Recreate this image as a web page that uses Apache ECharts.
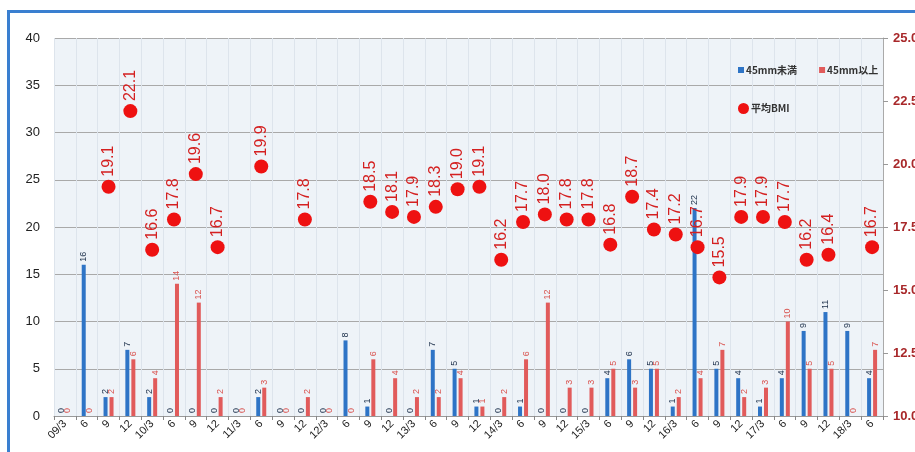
<!DOCTYPE html>
<html>
<head>
<meta charset="utf-8">
<script src="https://cdn.jsdelivr.net/npm/echarts@6/dist/echarts.min.js"></script>
<style>
  html, body { margin: 0; padding: 0; background: #ffffff; }
  #frame { position: absolute; left: 7px; top: 10px; width: 940px; height: 480px;
           border-left: 3px solid #3a7fd0; border-top: 3px solid #3a7fd0; }
  #chart { position: absolute; left: 0; top: 0; width: 915px; height: 452px; }
</style>
</head>
<body>
<div id="frame"></div>
<div id="chart"></div>
<script>
// Quarterly survey points (year/month)
const categories = [
  '09/3', '6', '9', '12', '10/3', '6', '9', '12', '11/3', '6', '9', '12',
  '12/3', '6', '9', '12', '13/3', '6', '9', '12', '14/3', '6', '9', '12',
  '15/3', '6', '9', '12', '16/3', '6', '9', '12', '17/3', '6', '9', '12',
  '18/3', '6'
];

// Counts below 45mm
const under45 = [
  0, 16, 2, 7, 2, 0, 0, 0, 0, 2, 0, 0,
  0, 8, 1, 0, 0, 7, 5, 1, 0, 1, 0, 0,
  0, 4, 6, 5, 1, 22, 5, 4, 1, 4, 9, 11,
  9, 4
];

// Counts of 45mm and above
const over45 = [
  0, 0, 2, 6, 4, 14, 12, 2, 0, 3, 0, 2,
  0, 0, 6, 4, 2, 2, 4, 1, 2, 6, 12, 3,
  3, 5, 3, 5, 2, 4, 7, 2, 3, 10, 5, 5,
  0, 7
];

// Average BMI (null where not measured)
const avgBMI = [
  null, null, 19.1, 22.1, 16.6, 17.8, 19.6, 16.7, null, 19.9, null, 17.8,
  null, null, 18.5, 18.1, 17.9, 18.3, 19.0, 19.1, 16.2, 17.7, 18.0, 17.8,
  17.8, 16.8, 18.7, 17.4, 17.2, 16.7, 15.5, 17.9, 17.9, 17.7, 16.2, 16.4,
  null, 16.7
];

const leftTicks = { min: 0, max: 40, interval: 5 };
const rightTicks = { min: 10, max: 25, interval: 2.5 };

const chart = echarts.init(document.getElementById('chart'));

const barLabel = (color) => ({
  show: true,
  position: 'top',
  rotate: 90,
  align: 'left',
  verticalAlign: 'middle',
  distance: 3,
  fontSize: 9,
  color: color,
  fontFamily: 'Liberation Sans, Arial, sans-serif'
});

chart.setOption({
  animation: false,
  backgroundColor: 'transparent',
  textStyle: { fontFamily: 'Liberation Sans, Arial, sans-serif' },
  grid: {
    left: 54, right: 32, top: 38, bottom: 36,
    show: true,
    backgroundColor: '#eef3f8',
    borderWidth: 0,
    outerBoundsMode: 'none'
  },
  legend: [
    {
      data: ['45mm未満', '45mm以上'],
      left: 733, top: 60,
      itemWidth: 6, itemHeight: 6, itemGap: 22,
      icon: 'rect',
      textStyle: { fontSize: 10, fontWeight: 'bold', color: '#333',
                   fontFamily: 'Noto Sans CJK JP, sans-serif', padding: [0, 0, 0, -3] }
    },
    {
      data: ['平均BMI'],
      left: 733, top: 98,
      itemWidth: 11, itemHeight: 11,
      icon: 'circle',
      textStyle: { fontSize: 10, fontWeight: 'bold', color: '#333',
                   fontFamily: 'Noto Sans CJK JP, sans-serif', padding: [0, 0, 0, -3] }
    }
  ],
  xAxis: {
    type: 'category',
    data: categories,
    boundaryGap: true,
    axisLine: { show: true, lineStyle: { color: '#999', width: 1 } },
    axisTick: { show: true, interval: 0, length: 4, lineStyle: { color: '#888' } },
    axisLabel: { interval: 0, rotate: 45, fontSize: 11, color: '#222', margin: 6 },
    splitLine: { show: true, interval: 0, lineStyle: { color: '#dde4ec', width: 1 } }
  },
  yAxis: [
    {
      type: 'value',
      min: leftTicks.min, max: leftTicks.max, interval: leftTicks.interval,
      axisLine: { show: false },
      axisTick: { show: false },
      axisLabel: { fontSize: 13, color: '#222', margin: 14 },
      splitLine: { show: true, lineStyle: { color: '#a9a9a9', width: 1 } }
    },
    {
      type: 'value',
      min: rightTicks.min, max: rightTicks.max, interval: rightTicks.interval,
      position: 'right',
      axisLine: { show: true, lineStyle: { color: '#aaa' } },
      axisTick: { show: true, length: 5, lineStyle: { color: '#999' } },
      axisLabel: { fontSize: 13, color: '#a8282a', fontWeight: 'bold', margin: 10,
                   formatter: (v) => v.toFixed(1) },
      splitLine: { show: false }
    }
  ],
  series: [
    {
      name: '45mm未満',
      type: 'bar',
      data: under45,
      barWidth: 4,
      barGap: '50%',
      itemStyle: { color: '#2e74c6' },
      label: barLabel('#1c2f4a')
    },
    {
      name: '45mm以上',
      type: 'bar',
      data: over45,
      barWidth: 4,
      itemStyle: { color: '#e15b5b' },
      label: barLabel('#d9534f')
    },
    {
      name: '平均BMI',
      type: 'scatter',
      yAxisIndex: 1,
      data: avgBMI,
      symbol: 'circle',
      symbolSize: 14,
      itemStyle: { color: '#ee1111', opacity: 1 },
      z: 5,
      label: {
        show: true,
        position: 'top',
        rotate: 90,
        align: 'left',
        verticalAlign: 'middle',
        distance: 3,
        fontSize: 16,
        color: '#d42020',
        fontFamily: 'Liberation Sans, Arial, sans-serif',
        formatter: (p) => p.value.toFixed(1)
      }
    }
  ]
});
</script>
</body>
</html>
